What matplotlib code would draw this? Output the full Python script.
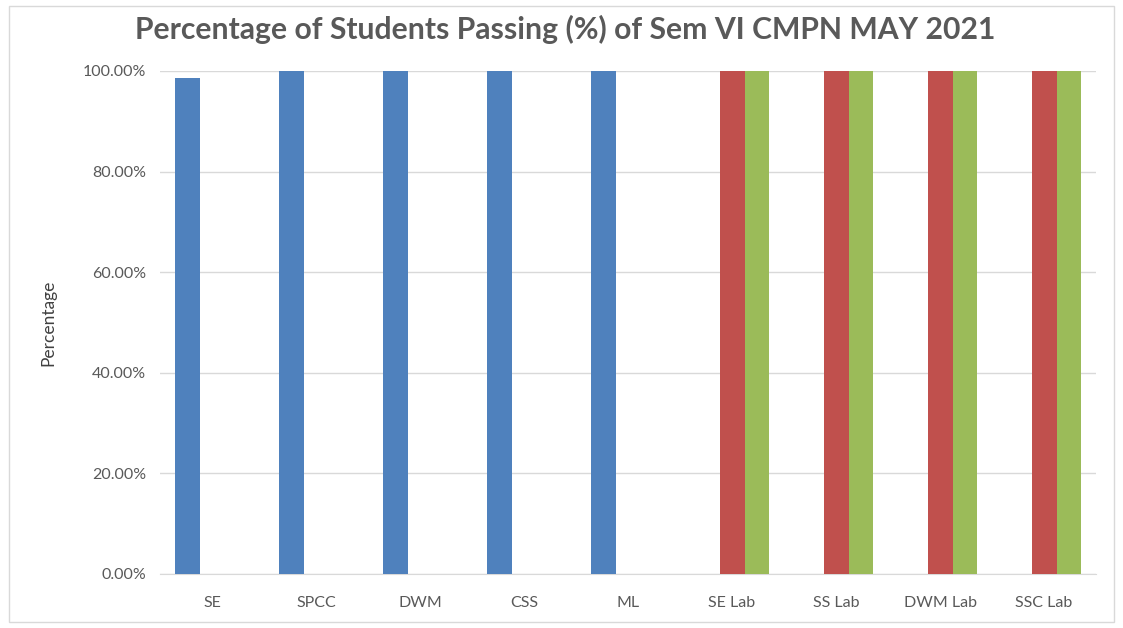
import numpy as np
import matplotlib.pyplot as plt
from matplotlib.patches import Rectangle
from matplotlib.ticker import PercentFormatter

subjects = ["SE", "SPCC", "DWM", "CSS", "ML", "SE Lab", "SS Lab", "DWM Lab", "SSC Lab"]
theory = [98.67, 100, 100, 100, 100, 0, 0, 0, 0]
term_work = [0, 0, 0, 0, 0, 100, 100, 100, 100]
oral = [0, 0, 0, 0, 0, 100, 100, 100, 100]

colors = ["#4F81BD", "#C0504D", "#9BBB59"]
text_color = "#595959"

plt.rcParams['font.family'] = ['Lato', 'DejaVu Sans']

fig = plt.figure(figsize=(11.23, 6.28), dpi=100)
ax = fig.add_axes([0.1425, 0.086, 0.8335, 0.801])

x = np.arange(len(subjects))
w = 0.24
ax.bar(x - w, theory, w, color=colors[0], zorder=3)
ax.bar(x, term_work, w, color=colors[1], zorder=3)
ax.bar(x + w, oral, w, color=colors[2], zorder=3)

ax.set_xlim(-0.5, len(subjects) - 0.5)
ax.set_ylim(0, 100)
ax.set_yticks(np.arange(0, 101, 20))
ax.yaxis.set_major_formatter(PercentFormatter(decimals=2))
ax.set_xticks(x)
ax.set_xticklabels(subjects)
ax.tick_params(axis='both', length=0, colors=text_color, labelsize=11.5)
ax.tick_params(axis='x', pad=16)
ax.tick_params(axis='y', pad=10)
ax.grid(axis='y', color='#D9D9D9', linewidth=1, zorder=0)
for s in ['top', 'right', 'left']:
    ax.spines[s].set_visible(False)
ax.spines['bottom'].set_color('#D9D9D9')

ax.set_ylabel("Percentage", color='#404040', fontsize=12.5, labelpad=19)
fig.text(0.503, 0.953, "Percentage of Students Passing (%) of Sem VI CMPN MAY 2021",
         ha='center', va='center', fontsize=21.7, fontweight='bold', color=text_color)

fig.patches.append(Rectangle((0.008, 0.01), 0.984, 0.98, transform=fig.transFigure,
                             fill=False, edgecolor='#D9D9D9', linewidth=1))

fig.savefig("out.png", dpi=100, facecolor='white')
